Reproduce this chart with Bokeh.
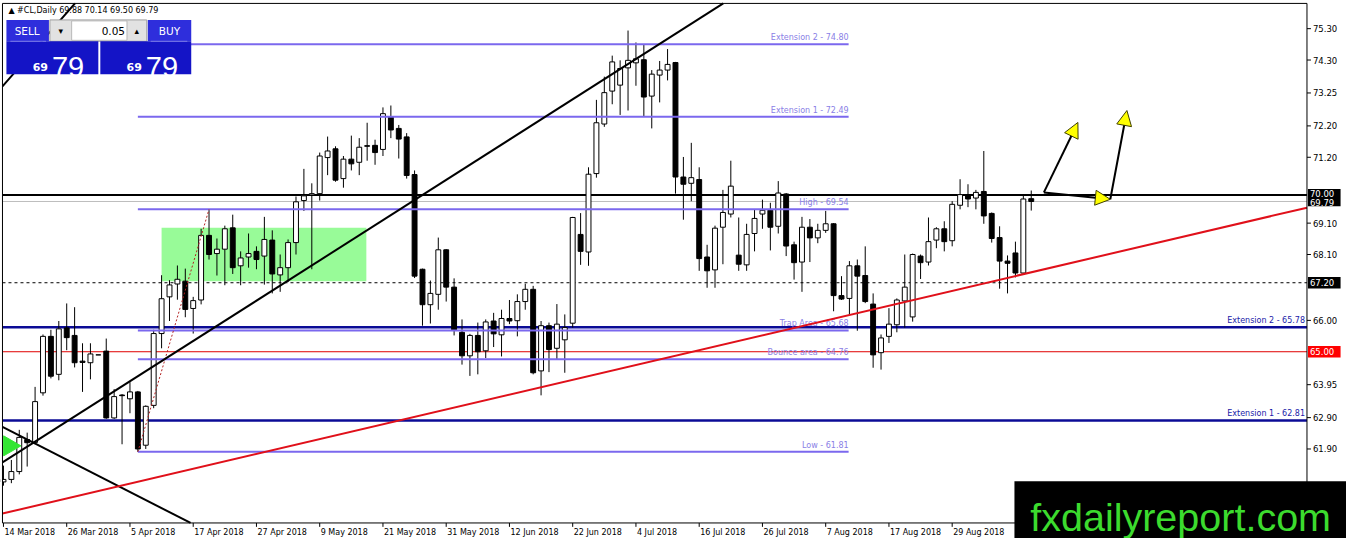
from bokeh.plotting import figure, ColumnDataSource
from bokeh.models import Range1d, Arrow, NormalHead
from bokeh.core.properties import value
from bokeh.embed import file_html
from bokeh.resources import INLINE

symbol = "#CL,Daily"
last_ohlc = [69.88, 70.14, 69.50, 69.79]

# daily candles, index 0 = 14 Mar 2018
opens = [60.85, 60.93, 61.18, 62.20, 62.11, 63.69, 65.49, 64.28, 65.76, 65.52,
         64.70, 64.65, 64.90, 65.02, 62.89, 63.62, 63.50, 63.72, 62.02, 63.29,
         65.58, 66.75, 67.16, 67.25, 66.38, 66.65, 68.71, 68.13, 68.27, 68.95,
         67.74, 68.02, 68.20, 68.05, 68.56, 67.45, 67.68, 68.48, 69.82, 70.00,
         70.04, 71.19, 71.47, 70.52, 71.14, 71.04, 71.57, 71.58, 71.45, 72.48,
         72.12, 71.85, 70.65, 67.63, 66.50, 66.83, 68.25, 67.06, 65.62, 64.87,
         65.52, 65.03, 65.98, 65.54, 66.06, 65.99, 66.60, 66.99, 64.39, 65.83,
         65.11, 65.38, 65.91, 68.74, 68.18, 70.68, 72.26, 73.31, 73.50, 74.05,
         74.21, 74.31, 73.15, 73.82, 73.98, 74.22, 70.57, 70.37, 70.49, 68.02,
         67.61, 68.97, 69.39, 68.08, 67.77, 68.77, 69.39, 69.51, 69.00, 70.03,
         68.41, 67.86, 68.97, 68.63, 68.87, 69.08, 66.79, 66.70, 67.74, 67.43,
         66.52, 64.97, 65.49, 65.86, 66.62, 66.11, 68.05, 67.86, 68.56, 68.92,
         68.54, 69.67, 70.01, 69.90, 70.11, 69.41, 68.64, 67.89, 68.15, 67.51,
         69.88]
highs = [61.37, 61.55, 62.51, 62.42, 63.88, 65.55, 65.70, 65.98, 66.54, 66.42,
         65.27, 65.27, 64.90, 65.42, 63.81, 63.65, 64.03, 63.75, 63.29, 65.70,
         67.44, 67.28, 67.75, 67.65, 66.75, 68.92, 69.54, 68.61, 69.02, 69.37,
         68.20, 68.77, 68.36, 69.30, 68.87, 68.10, 68.58, 69.95, 70.83, 70.37,
         71.35, 71.86, 71.55, 71.24, 71.89, 71.81, 72.30, 71.76, 72.79, 72.85,
         72.23, 71.97, 70.78, 67.65, 67.27, 68.64, 68.27, 67.34, 66.03, 65.57,
         65.93, 66.03, 66.24, 66.34, 66.65, 66.83, 67.17, 67.10, 65.98, 65.93,
         66.52, 66.19, 69.30, 69.42, 70.88, 73.03, 73.77, 74.44, 74.29, 75.24,
         74.86, 74.78, 73.98, 74.27, 74.65, 74.24, 71.21, 71.66, 70.88, 68.41,
         69.02, 70.16, 71.09, 69.28, 69.08, 69.52, 69.85, 69.75, 70.44, 70.06,
         68.51, 69.30, 69.23, 69.08, 69.49, 69.10, 67.41, 67.89, 67.94, 68.36,
         66.86, 65.55, 66.39, 66.70, 68.10, 68.13, 68.10, 69.28, 68.97, 69.16,
         69.80, 70.50, 70.34, 70.16, 71.40, 69.44, 69.00, 68.07, 68.51, 70.01,
         70.14]
lows = [60.73, 60.81, 61.09, 61.34, 62.05, 63.60, 64.15, 64.09, 65.05, 64.50,
        63.72, 64.12, 64.90, 62.86, 62.86, 62.05, 63.04, 61.81, 61.90, 63.20,
        65.11, 65.98, 66.66, 66.10, 65.58, 66.51, 67.94, 67.43, 67.12, 67.48,
        67.12, 67.68, 67.63, 67.14, 66.86, 66.91, 67.22, 68.10, 69.49, 67.63,
        69.82, 70.63, 70.42, 70.23, 70.78, 70.63, 71.09, 70.96, 71.24, 71.81,
        71.16, 70.52, 67.35, 65.83, 65.90, 66.34, 66.60, 65.52, 64.59, 64.23,
        64.28, 64.80, 65.15, 64.85, 65.88, 65.49, 66.34, 64.28, 63.61, 64.35,
        64.74, 64.33, 65.77, 67.77, 67.74, 70.55, 72.17, 72.89, 72.55, 72.69,
        73.48, 72.50, 72.12, 72.95, 73.65, 70.04, 69.21, 69.80, 67.58, 67.04,
        67.04, 67.79, 69.28, 67.58, 67.58, 68.20, 68.92, 68.23, 68.77, 68.05,
        67.30, 66.91, 67.86, 68.46, 68.79, 66.29, 66.65, 66.19, 65.67, 66.55,
        64.49, 64.43, 65.28, 65.62, 65.77, 65.96, 67.32, 67.75, 68.30, 68.20,
        68.36, 69.54, 69.61, 69.54, 69.08, 68.48, 67.01, 66.86, 67.37, 67.48,
        69.50]
closes = [60.93, 61.18, 62.27, 62.10, 63.41, 65.49, 64.22, 65.73, 65.45, 64.65,
          64.66, 64.93, 64.90, 62.89, 63.57, 63.60, 63.72, 61.90, 63.26, 65.58,
          66.69, 67.13, 67.31, 66.35, 66.63, 68.71, 68.10, 68.27, 68.92, 67.68,
          67.99, 68.13, 67.94, 68.58, 67.48, 67.68, 68.48, 69.78, 69.97, 70.04,
          71.24, 71.40, 70.47, 71.14, 70.99, 71.52, 71.55, 71.35, 72.59, 72.07,
          71.78, 70.62, 67.41, 66.50, 66.86, 68.25, 67.06, 65.69, 64.87, 65.52,
          65.00, 65.95, 65.57, 66.06, 65.98, 66.60, 66.99, 64.33, 65.83, 65.07,
          65.88, 65.77, 69.28, 68.20, 70.66, 72.30, 73.26, 74.24, 74.03, 74.29,
          74.34, 73.12, 73.85, 73.98, 74.16, 70.57, 70.34, 70.55, 67.97, 67.58,
          68.94, 69.44, 70.28, 67.79, 68.74, 69.25, 69.51, 68.97, 70.06, 68.37,
          67.84, 68.97, 68.63, 68.87, 69.08, 66.79, 66.68, 67.74, 67.41, 66.60,
          64.90, 65.44, 65.88, 66.65, 67.06, 68.10, 67.84, 68.51, 68.92, 68.51,
          69.70, 70.01, 69.87, 70.08, 69.33, 68.61, 67.89, 67.82, 67.51, 69.87,
          69.79]

date_ticks = [0, 8, 16, 24, 32, 40, 48, 56, 64, 72, 80, 88, 96, 104, 112, 120]
date_labels = ["14 Mar 2018", "26 Mar 2018", "5 Apr 2018", "17 Apr 2018",
               "27 Apr 2018", "9 May 2018", "21 May 2018", "31 May 2018",
               "12 Jun 2018", "22 Jun 2018", "4 Jul 2018", "16 Jul 2018",
               "26 Jul 2018", "7 Aug 2018", "17 Aug 2018", "29 Aug 2018"]

price_ticks = [75.30, 74.30, 73.25, 72.20, 71.20, 69.10, 68.10, 66.00,
               63.95, 62.90, 61.90]

# fibonacci drawn from the 5 Apr low to the 17 Apr high
fib_levels = [74.80, 72.49, 69.54, 65.68, 64.76, 61.81]
fib_names = ["Extension 2", "Extension 1", "High", "Trap Area", "Bounce area", "Low"]
fib_start, fib_end = 17, 106.9

ext_levels = [65.78, 62.81]
ext_names = ["Extension 2", "Extension 1"]

level_black = 70.00
level_red = 65.00
level_dash = 67.20
bid = 69.79

red_trend_x, red_trend_y = [-1, 166], [59.79, 69.66]
up_trend_x, up_trend_y = [-1, 95], [61.33, 76.74]
steep_x, steep_y = [-1, 10], [73.21, 76.38]
down_trend_x, down_trend_y = [-1, 25], [62.72, 59.37]
fib_dot_x, fib_dot_y = [17, 26], [61.81, 69.54]

zone_x, zone_y = [20, 45.9], [67.25, 68.95]
signal_x, signal_y = [0.75], [62.0]

arrow_x0 = [131.6, 131.6, 140.0]
arrow_y0 = [70.08, 70.08, 69.86]
arrow_x1 = [135.9, 140.0, 142.1]
arrow_y1 = [72.31, 69.86, 72.69]

FONT = "DejaVu Sans"


def rx(px):
    # horizontal pixel of the terminal screenshot -> bar index
    return (px - 3) / 8.0


def ry(py):
    # vertical pixel of the terminal screenshot -> price
    return 75.3 - (py - 29) / 32.3


# chart window inside the terminal picture
CH_L, CH_R, CH_T, CH_B = rx(2), rx(1322), ry(3), ry(538)
DX, DY = 1 / 8.0, 1 / 32.3          # one pixel in bar / price units


def clip(xs, ys):
    x0, x1 = xs
    y0, y1 = ys
    dx, dy = x1 - x0, y1 - y0
    t0, t1 = 0.0, 1.0
    for pp, qq in ((-dx, x0 - CH_L), (dx, CH_R - x0), (-dy, y0 - CH_B), (dy, CH_T - y0)):
        if pp == 0:
            continue
        r = qq / pp
        if pp < 0:
            t0 = max(t0, r)
        else:
            t1 = min(t1, r)
    return [x0 + t0 * dx, x0 + t1 * dx], [y0 + t0 * dy, y0 + t1 * dy]


p = figure(width=1346, height=538, x_range=Range1d(rx(0), rx(1362)),
           y_range=Range1d(ry(554), ry(0)), x_axis_location=None,
           y_axis_location=None, toolbar_location=None, output_backend="svg",
           min_border=0)
p.background_fill_color = "white"
p.border_fill_color = "white"
p.outline_line_color = None
p.xgrid.visible = False
p.ygrid.visible = False

# consolidation zone
p.quad(left=[zone_x[0]], right=[zone_x[1]], bottom=[zone_y[0]], top=[zone_y[1]],
       fill_color="#98FB98", line_color=None)

# horizontal levels
n2 = len(ext_levels)
p.segment(x0=[CH_L] * n2, x1=[CH_R] * n2, y0=ext_levels, y1=ext_levels,
          line_color="#0B0B96", line_width=2.5)
p.text(x=[rx(1320)] * n2, y=ext_levels, y_offset=-2,
       text=[f"{nm} - {v:.2f}" for nm, v in zip(ext_names, ext_levels)],
       text_align="right", text_baseline="bottom", text_color="#1A1AA8",
       text_font=value(FONT), text_font_size="8px")
p.segment(x0=[CH_L] * 3, x1=[CH_R] * 3,
          y0=[level_red, bid, level_black], y1=[level_red, bid, level_black],
          line_color=["#E00000", "#BEBEBE", "black"], line_width=[1, 1, 2])
p.segment(x0=[CH_L], x1=[CH_R], y0=[level_dash], y1=[level_dash],
          line_color="black", line_width=1, line_dash="3 3")

# candles
src = ColumnDataSource(data=dict(
    x=list(range(len(opens))),
    high=highs, low=lows,
    top=[max(o, c) for o, c in zip(opens, closes)],
    bottom=[min(o, c) for o, c in zip(opens, closes)],
    color=["white" if c >= o else "black" for o, c in zip(opens, closes)],
))
p.segment(x0="x", x1="x", y0="low", y1="high", source=src, line_color="black", line_width=1)
p.vbar(x="x", width=0.62, top="top", bottom="bottom", source=src,
       fill_color="color", line_color="black", line_width=1)

# fibonacci levels
n = len(fib_levels)
p.segment(x0=[fib_start] * n, x1=[fib_end] * n, y0=fib_levels, y1=fib_levels,
          line_color="#7B68EE", line_width=2)
p.text(x=[fib_end] * n, y=fib_levels, y_offset=-2,
       text=[f"{nm} - {v:.2f}" for nm, v in zip(fib_names, fib_levels)],
       text_align="right", text_baseline="bottom", text_color="#8A80E6",
       text_font=value(FONT), text_font_size="8px")
p.line(fib_dot_x, fib_dot_y, line_color="#B22222", line_width=1, line_dash="2 2")

# trend lines, cut at the chart window
for xs, ys, col in ((up_trend_x, up_trend_y, "black"),
                    (steep_x, steep_y, "black"),
                    (down_trend_x, down_trend_y, "black"),
                    (red_trend_x, red_trend_y, "#E0101A")):
    cxs, cys = clip(xs, ys)
    p.line(cxs, cys, line_color=col, line_width=2)

p.scatter(signal_x, signal_y, marker="triangle", size=20, angle=-1.5708,
          fill_color="#33E633", line_color="#33E633")

for x0, y0, x1, y1 in zip(arrow_x0, arrow_y0, arrow_x1, arrow_y1):
    p.add_layout(Arrow(x_start=x0, y_start=y0, x_end=x1, y_end=y1,
                       line_color="black", line_width=2,
                       end=NormalHead(size=15, fill_color="#FFFF00",
                                      line_color="#404000", line_width=1)))

# window frame, price scale and time scale
p.quad(left=[rx(0)], right=[CH_L], bottom=[ry(554)], top=[ry(0)],
       fill_color="white", line_color=None)
p.quad(left=[CH_L], right=[CH_R], bottom=[CH_B], top=[CH_T],
       fill_color=None, line_color="black", line_width=1)
m = len(price_ticks)
p.segment(x0=[CH_R] * m, x1=[CH_R + 4 * DX] * m, y0=price_ticks, y1=price_ticks,
          line_color="black", line_width=1)
p.text(x=[CH_R + 6 * DX] * m, y=price_ticks, text=[f"{v:.2f}" for v in price_ticks],
       text_align="left", text_baseline="middle", text_color="black",
       text_font=value(FONT), text_font_size="8.5px")
k = len(date_ticks)
p.segment(x0=date_ticks, x1=date_ticks, y0=[CH_B] * k, y1=[CH_B - 4 * DY] * k,
          line_color="black", line_width=1)
p.text(x=[t + DX for t in date_ticks], y=[CH_B - 5 * DY] * k, text=date_labels,
       text_align="left", text_baseline="top", text_color="black",
       text_font=value(FONT), text_font_size="8px")

# price tags on the scale
tag_l, tag_r = CH_R + DX, CH_R + 34 * DX
p.quad(left=[tag_l] * 3, right=[tag_r] * 3,
       top=[level_black + 6 * DY, level_dash + 6 * DY, level_red + 6 * DY],
       bottom=[bid - 5 * DY, level_dash - 6 * DY, level_red - 6 * DY],
       fill_color=["black", "black", "#FF0000"], line_color=None)
p.text(x=[tag_l + 2 * DX] * 4,
       y=[level_black + 1 * DY, bid - 1 * DY, level_dash, level_red],
       text=[f"{v:.2f}" for v in (level_black, bid, level_dash, level_red)],
       text_align="left", text_baseline="middle", text_color="white",
       text_font=value(FONT), text_font_size="8.5px")

# one-click trading panel
p.quad(left=[rx(6), rx(149)], right=[rx(49), rx(193)], top=[ry(20)] * 2,
       bottom=[ry(42)] * 2, fill_color="#2E2EDC", line_color=None)
p.quad(left=[rx(50)], right=[rx(148)], top=[ry(20)], bottom=[ry(42)],
       fill_color="#E2E2E2", line_color="#A0A0A0")
p.quad(left=[rx(72)], right=[rx(128)], top=[ry(21)], bottom=[ry(41)],
       fill_color="white", line_color="#B8B8B8")
p.quad(left=[rx(6), rx(101)], right=[rx(99), rx(193)], top=[ry(42)] * 2,
       bottom=[ry(76)] * 2, fill_color="#1414C6", line_color=None)
p.segment(x0=[rx(10), rx(152)], x1=[rx(46), rx(189)], y0=[ry(42)] * 2,
          y1=[ry(42)] * 2, line_color="#7A7AEA", line_width=1)
p.text(x=[rx(27), rx(171)], y=[ry(31)] * 2, text=["SELL", "BUY"],
       text_align="center", text_baseline="middle", text_color="white",
       text_font=value(FONT), text_font_size="10.5px")
p.text(x=[rx(126)], y=[ry(31)], text=["0.05"], text_align="right",
       text_baseline="middle", text_color="black",
       text_font=value(FONT), text_font_size="10.5px")
p.text(x=[rx(61), rx(138)], y=[ry(31)] * 2, text=["\u25be", "\u25b4"],
       text_align="center", text_baseline="middle", text_color="black",
       text_font=value(FONT), text_font_size="9px")
big, small = f"{last_ohlc[3]:.2f}"[3:], f"{last_ohlc[3]:.2f}"[:2]
p.text(x=[rx(48), rx(143)], y=[ry(68)] * 2, text=[small, small],
       text_align="right", text_baseline="alphabetic", text_color="white",
       text_font=value(FONT), text_font_size="11px", text_font_style="bold")
p.text(x=[rx(52), rx(147)], y=[ry(68)] * 2, text=[big, big],
       text_align="left", text_baseline="alphabetic", text_color="white",
       text_font=value("Liberation Sans"), text_font_size="29px")

header = "\u25b2 " + symbol + "  " + " ".join(f"{v:.2f}" for v in last_ohlc)
p.text(x=[rx(8)], y=[ry(10)], text=[header], text_align="left",
       text_baseline="middle", text_color="black",
       text_font=value(FONT), text_font_size="8px")

# watermark
p.quad(left=[rx(1026)], right=[rx(1364)], bottom=[ry(556)], top=[ry(495)],
       fill_color="black", line_color=None)
p.text(x=[rx(1042)], y=[ry(532)], text=["fxdailyreport.com"], text_align="left",
       text_baseline="alphabetic", text_color="#3CDB2E",
       text_font=value("Liberation Sans"), text_font_size="39.5px")

open("out.html", "w").write(file_html(p, INLINE))
